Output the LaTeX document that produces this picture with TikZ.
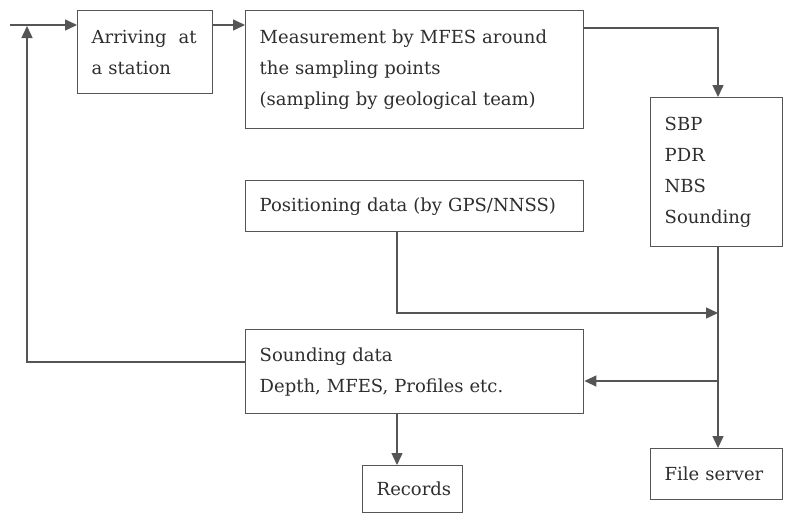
\documentclass[tikz,border=0pt]{standalone}
\usepackage{fontspec}
\setmainfont{DejaVu Serif}
\usetikzlibrary{arrows.meta}
\definecolor{linec}{HTML}{555555}
\definecolor{textc}{HTML}{2E2E2E}
\begin{document}
\begin{tikzpicture}[x=1pt,y=-1pt,
  box/.style={draw=linec, line width=1.4pt, anchor=north west, inner xsep=14pt, inner ysep=0pt,
    align=left, text=textc, font=\fontsize{18}{31}\selectfont},
  conn/.style={draw=linec, line width=1.4pt},
  arw/.style={conn, -{Triangle[length=12pt,width=11pt]}}]
\useasboundingbox[fill=white] (0,0) rectangle (794,514);

\node[box, minimum width=135pt, minimum height=83pt, text width=107pt] (arr) at (77,10) {Arriving~~at\\a~station};
\node[box, minimum width=338pt, minimum height=118pt, text width=310pt] (meas) at (245,10) {Measurement by MFES around\\the sampling points\\(sampling by geological team)};
\node[box, minimum width=132pt, minimum height=149pt, text width=104pt] (sbp) at (650,97) {SBP\\PDR\\NBS\\Sounding};
\node[box, minimum width=338pt, minimum height=51pt, text width=310pt] (pos) at (245,180) {Positioning data (by GPS/NNSS)};
\node[box, minimum width=338pt, minimum height=84pt, text width=310pt] (snd) at (245,329) {Sounding data\\Depth, MFES, Profiles etc.};
\node[box, minimum width=100pt, minimum height=47pt, text width=72pt] (rec) at (362,465) {Records};
\node[box, minimum width=132pt, minimum height=51pt, text width=104pt] (fs) at (650,448) {File~server};

\coordinate (start) at (10,25);
\coordinate (c1) at (718,28);
\coordinate (p1) at (397,313);
\coordinate (j1) at (718,313);
\coordinate (j2) at (718,381);
\coordinate (l1) at (27,362);
\coordinate (l2) at (27,26);

\draw[arw] (start) -- (start -| arr.west);
\draw[arw] (start -| arr.east) -- (start -| meas.west);
\draw[arw] (c1 -| meas.east) -- (c1) -- (c1 |- sbp.north);
\draw[arw] (p1 |- pos.south) -- (p1) -- (j1);
\draw[arw] (j1 |- sbp.south) -- (j1 |- fs.north);
\draw[arw] (j2) -- (j2 -| snd.east);
\draw[arw] (p1 |- snd.south) -- (p1 |- rec.north);
\draw[arw] (l1 -| snd.west) -- (l1) -- (l2);
\end{tikzpicture}
\end{document}
